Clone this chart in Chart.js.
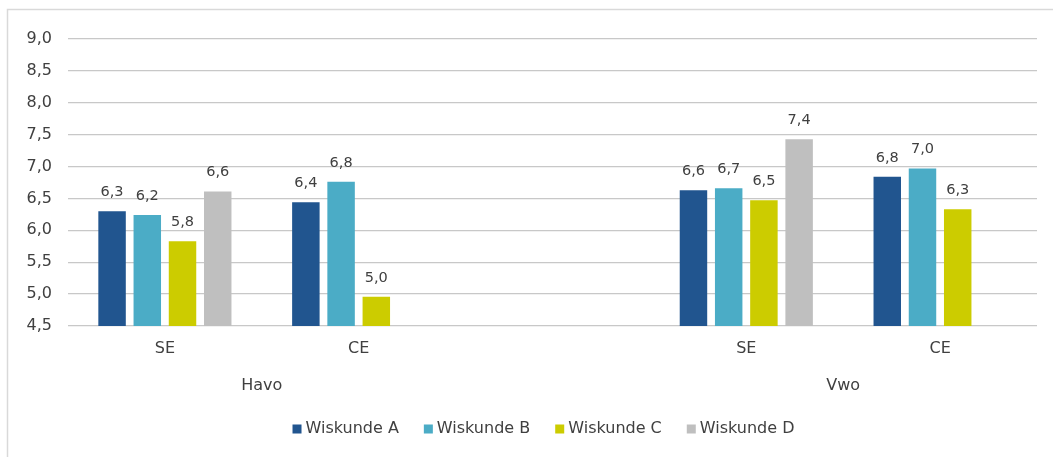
<!DOCTYPE html>
<html><head><meta charset="utf-8">
<script src="https://cdn.jsdelivr.net/npm/chart.js@4.4.0/dist/chart.umd.min.js"></script>
<style>html,body{margin:0;padding:0;background:#fff;}#wrap{width:1053px;height:457px;position:relative;}</style>
</head><body><div id="wrap"><canvas id="c" width="1053" height="457"></canvas></div>
<script>
const categories = ['SE', 'CE', '', 'SE', 'CE'];
const groupLabels = ['Havo', 'Vwo'];
const groupSpans = [[0, 1], [3, 4]];
const seriesNames = ['Wiskunde A', 'Wiskunde B', 'Wiskunde C', 'Wiskunde D'];
const wiskundeA = [6.30, 6.44, null, 6.63, 6.84];
const wiskundeB = [6.24, 6.76, null, 6.66, 6.97];
const wiskundeC = [5.83, 4.96, null, 6.47, 6.33];
const wiskundeD = [6.61, null, null, 7.43, null];
const yMin = 4.5, yMax = 9.0, yStep = 0.5;
const colors = ['#21558F', '#4BACC6', '#CCCC00', '#BFBFBF'];
const FONT = 'DejaVu Sans';
const TEXT = '#404040';
const fmt = v => v.toFixed(1).replace('.', ',');

const seriesValues = [wiskundeA, wiskundeB, wiskundeC, wiskundeD];

const borderPlugin = {
  id: 'frame',
  beforeDraw(chart) {
    const ctx = chart.ctx;
    ctx.save();
    ctx.fillStyle = '#fff';
    ctx.fillRect(0, 0, chart.width, chart.height);
    ctx.strokeStyle = '#D9D9D9';
    ctx.lineWidth = 1.5;
    ctx.beginPath();
    ctx.moveTo(7.5, chart.height + 2);
    ctx.lineTo(7.5, 9.5);
    ctx.lineTo(chart.width + 2, 9.5);
    ctx.stroke();
    ctx.restore();
  }
};

const labelPlugin = {
  id: 'labels',
  afterDatasetsDraw(chart) {
    const ctx = chart.ctx;
    ctx.save();
    ctx.fillStyle = TEXT;
    ctx.font = '14.5px "' + FONT + '"';
    ctx.textAlign = 'center';
    ctx.textBaseline = 'alphabetic';
    chart.data.datasets.forEach((ds, di) => {
      const meta = chart.getDatasetMeta(di);
      meta.data.forEach((el, i) => {
        const v = ds.data[i];
        if (v === null || v === undefined) return;
        ctx.fillText(fmt(v), el.x, el.y - 15);
      });
    });
    // group labels
    const xs = chart.scales.x;
    ctx.font = '16px "' + FONT + '"';
    ctx.textBaseline = 'middle';
    groupLabels.forEach((g, k) => {
      const [a, b] = groupSpans[k];
      const x = (xs.getPixelForValue(a) + xs.getPixelForValue(b)) / 2;
      ctx.fillText(g, x, 386);
    });
    // legend
    ctx.font = '16px "' + FONT + '"';
    ctx.textAlign = 'left';
    const box = 9, gap = 4, spacing = 25;
    const widths = seriesNames.map(n => ctx.measureText(n).width);
    const total = widths.reduce((s, w) => s + box + gap + w, 0) + spacing * (seriesNames.length - 1);
    let x = 543.5 - total / 2;
    const cy = 429;
    seriesNames.forEach((n, i) => {
      ctx.fillStyle = colors[i];
      ctx.fillRect(x, cy - box / 2, box, box);
      ctx.fillStyle = TEXT;
      ctx.fillText(n, x + box + gap, cy);
      x += box + gap + widths[i] + spacing;
    });
    ctx.restore();
  }
};

new Chart(document.getElementById('c'), {
  type: 'bar',
  data: {
    labels: categories,
    datasets: seriesNames.map((n, i) => ({
      label: n,
      data: seriesValues[i],
      backgroundColor: colors[i],
      borderWidth: 0,
      categoryPercentage: 0.727,
      barPercentage: 0.78
    }))
  },
  options: {
    responsive: false,
    animation: false,
    devicePixelRatio: 1,
    layout: { padding: { top: 39, left: 0, right: 16, bottom: 0 } },
    plugins: { legend: { display: false }, tooltip: { enabled: false } },
    scales: {
      x: {
        grid: { display: false, drawTicks: false },
        border: { display: false },
        ticks: { color: TEXT, font: { family: FONT, size: 16 }, padding: 13, maxRotation: 0, autoSkip: false },
        afterFit(s) { s.height = 131; }
      },
      y: {
        min: yMin, max: yMax,
        grid: { color: '#C8C8C8', lineWidth: 1.3, drawTicks: false },
        border: { display: false },
        ticks: { stepSize: yStep, color: TEXT, font: { family: FONT, size: 16 }, padding: 16, callback: v => fmt(v) },
        afterFit(s) { s.width = 68; }
      }
    }
  },
  plugins: [borderPlugin, labelPlugin]
});
</script></body></html>
